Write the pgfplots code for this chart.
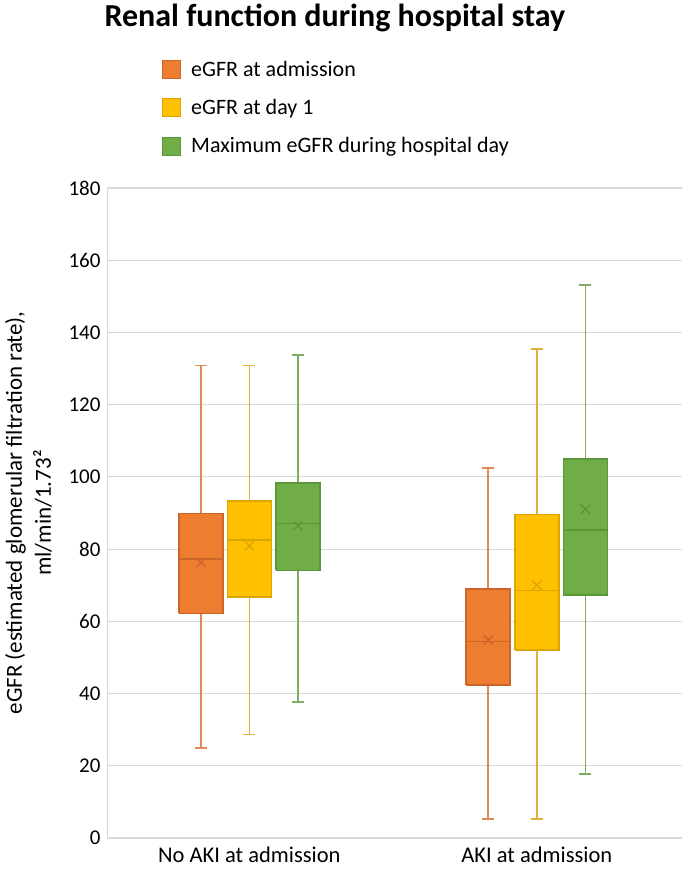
\documentclass[border=0pt]{standalone}
\usepackage{fontspec}
\setmainfont{Carlito}
\usepackage{pgfplots}
\pgfplotsset{compat=1.18}
\definecolor{cOr}{HTML}{ED7D31}
\definecolor{cOrD}{HTML}{CC6529}
\definecolor{cOrW}{HTML}{E0895A}
\definecolor{cYe}{HTML}{FFC000}
\definecolor{cYeD}{HTML}{DBA600}
\definecolor{cYeW}{HTML}{DEB03C}
\definecolor{cGr}{HTML}{70AD47}
\definecolor{cGrD}{HTML}{5A963A}
\definecolor{cGrW}{HTML}{7FAB63}
\definecolor{gridc}{HTML}{D9D9D9}
\pgfplotsset{
  wOr/.style={forget plot, draw=cOrW, line width=1.6bp, mark=none},
  wYe/.style={forget plot, draw=cYeW, line width=1.6bp, mark=none},
  wGr/.style={forget plot, draw=cGrW, line width=1.6bp, mark=none},
  bOr/.style={forget plot, draw=cOrD, fill=cOr, line width=1.6bp, mark=none},
  bYe/.style={forget plot, draw=cYeD, fill=cYe, line width=1.6bp, mark=none},
  bGr/.style={forget plot, draw=cGrD, fill=cGr, line width=1.6bp, mark=none},
  mOr/.style={forget plot, draw=cOrD, line width=1.6bp, mark=none},
  mYe/.style={forget plot, draw=cYeD, line width=1.6bp, mark=none},
  mGr/.style={forget plot, draw=cGrD, line width=1.6bp, mark=none},
  avg/.style={forget plot, only marks, mark=x, mark size=6.5bp, mark options={draw=#1, line width=1.3bp}},
  sqlegend/.style={legend image code/.code={\draw[##1, line width=1bp] (0bp,-9bp) rectangle (18bp,9bp);}},
}
\begin{document}
\begin{tikzpicture}
\path[use as bounding box] (0,0) rectangle (685bp,877bp);
\begin{axis}[
  at={(107bp,39bp)}, anchor=south west,
  scale only axis, width=575bp, height=650bp,
  xmin=0.505, xmax=2.505, ymin=0, ymax=180,
  xtick={1,2}, xticklabels={No AKI at admission, AKI at admission},
  ytick={0,20,...,180},
  axis x line*=bottom, axis y line*=left,
  axis line style={draw=gridc, line width=1bp, -},
  tick style={draw=none},
  ymajorgrids, grid style={draw=gridc, line width=1.2bp},
  /pgf/number format/assume math mode=true,
  yticklabel style={font=\fontsize{21bp}{25bp}\selectfont, xshift=-3bp},
  xticklabel style={font=\fontsize{22.5bp}{26bp}\selectfont, yshift=-5bp},
  every axis y label/.style={at={(axis description cs:-0.1365,0.5)}, rotate=90, anchor=center, align=center, font=\fontsize{23bp}{29bp}\selectfont},
  ylabel={eGFR (estimated glomerular filtration rate),\\ ml/min/1.73²},
  title={\bfseries Renal function during hospital stay},
  title style={at={(axis description cs:-0.0104,1.240)}, anchor=base west, yshift=0pt, font=\fontsize{32bp}{36bp}\selectfont},
  legend style={at={(axis description cs:0.0957,1.1985)}, anchor=north west, draw=none, fill=none, inner sep=0pt, row sep=17.5bp, column sep=8bp, font=\fontsize{22bp}{26bp}\selectfont},
  legend cell align=left,
]
% ===== No AKI at admission =====
% eGFR at admission: lw 25.0, q1 62.2, med 77.3, q3 89.9, uw 130.8, mean 76.3
\addplot[wOr] coordinates {(0.831,89.9) (0.831,130.8)};
\addplot[wOr] coordinates {(0.810,130.8) (0.852,130.8)};
\addplot[wOr] coordinates {(0.831,62.2) (0.831,25.0)};
\addplot[wOr] coordinates {(0.810,25.0) (0.852,25.0)};
\addplot[bOr] coordinates {(0.7545,62.2) (0.9075,62.2) (0.9075,89.9) (0.7545,89.9) (0.7545,62.2)};
\addplot[mOr] coordinates {(0.7545,77.3) (0.9075,77.3)};
% eGFR at day 1: lw 28.7, q1 66.7, med 82.6, q3 93.3, uw 130.8, mean 80.9
\addplot[wYe] coordinates {(1.0,93.3) (1.0,130.8)};
\addplot[wYe] coordinates {(0.979,130.8) (1.021,130.8)};
\addplot[wYe] coordinates {(1.0,66.7) (1.0,28.7)};
\addplot[wYe] coordinates {(0.979,28.7) (1.021,28.7)};
\addplot[bYe] coordinates {(0.9235,66.7) (1.0765,66.7) (1.0765,93.3) (0.9235,93.3) (0.9235,66.7)};
\addplot[mYe] coordinates {(0.9235,82.6) (1.0765,82.6)};
% Maximum eGFR: lw 37.6, q1 74.1, med 87.1, q3 98.3, uw 133.7, mean 86.5
\addplot[wGr] coordinates {(1.169,98.3) (1.169,133.7)};
\addplot[wGr] coordinates {(1.148,133.7) (1.190,133.7)};
\addplot[wGr] coordinates {(1.169,74.1) (1.169,37.6)};
\addplot[wGr] coordinates {(1.148,37.6) (1.190,37.6)};
\addplot[bGr] coordinates {(1.0925,74.1) (1.2455,74.1) (1.2455,98.3) (1.0925,98.3) (1.0925,74.1)};
\addplot[mGr] coordinates {(1.0925,87.1) (1.2455,87.1)};
% ===== AKI at admission =====
% eGFR at admission: lw 5.2, q1 42.3, med 54.4, q3 68.9, uw 102.4, mean 54.8
\addplot[wOr] coordinates {(1.831,68.9) (1.831,102.4)};
\addplot[wOr] coordinates {(1.810,102.4) (1.852,102.4)};
\addplot[wOr] coordinates {(1.831,42.3) (1.831,5.2)};
\addplot[wOr] coordinates {(1.810,5.2) (1.852,5.2)};
\addplot[bOr] coordinates {(1.7545,42.3) (1.9075,42.3) (1.9075,68.9) (1.7545,68.9) (1.7545,42.3)};
\addplot[mOr] coordinates {(1.7545,54.4) (1.9075,54.4)};
% eGFR at day 1: lw 5.2, q1 52.1, med 68.5, q3 89.6, uw 135.4, mean 70.0
\addplot[wYe] coordinates {(2.0,89.6) (2.0,135.4)};
\addplot[wYe] coordinates {(1.979,135.4) (2.021,135.4)};
\addplot[wYe] coordinates {(2.0,52.1) (2.0,5.2)};
\addplot[wYe] coordinates {(1.979,5.2) (2.021,5.2)};
\addplot[bYe] coordinates {(1.9235,52.1) (2.0765,52.1) (2.0765,89.6) (1.9235,89.6) (1.9235,52.1)};
\addplot[mYe] coordinates {(1.9235,68.5) (2.0765,68.5)};
% Maximum eGFR: lw 17.8, q1 67.3, med 85.3, q3 105.0, uw 153.1, mean 91.1
\addplot[wGr] coordinates {(2.169,105.0) (2.169,153.1)};
\addplot[wGr] coordinates {(2.148,153.1) (2.190,153.1)};
\addplot[wGr] coordinates {(2.169,67.3) (2.169,17.8)};
\addplot[wGr] coordinates {(2.148,17.8) (2.190,17.8)};
\addplot[bGr] coordinates {(2.0925,67.3) (2.2455,67.3) (2.2455,105.0) (2.0925,105.0) (2.0925,67.3)};
\addplot[mGr] coordinates {(2.0925,85.3) (2.2455,85.3)};
% means
\addplot[avg=cOrD] coordinates {(0.831,76.3) (1.831,54.8)};
\addplot[avg=cYeD] coordinates {(1.0,80.9) (2.0,70.0)};
\addplot[avg=cGrD] coordinates {(1.169,86.5) (2.169,91.1)};
\addlegendimage{sqlegend, fill=cOr, draw=cOrD}
\addlegendentry{eGFR at admission}
\addlegendimage{sqlegend, fill=cYe, draw=cYeD}
\addlegendentry{eGFR at day 1}
\addlegendimage{sqlegend, fill=cGr, draw=cGrD}
\addlegendentry{Maximum eGFR during hospital day}
\end{axis}
\end{tikzpicture}
\end{document}
